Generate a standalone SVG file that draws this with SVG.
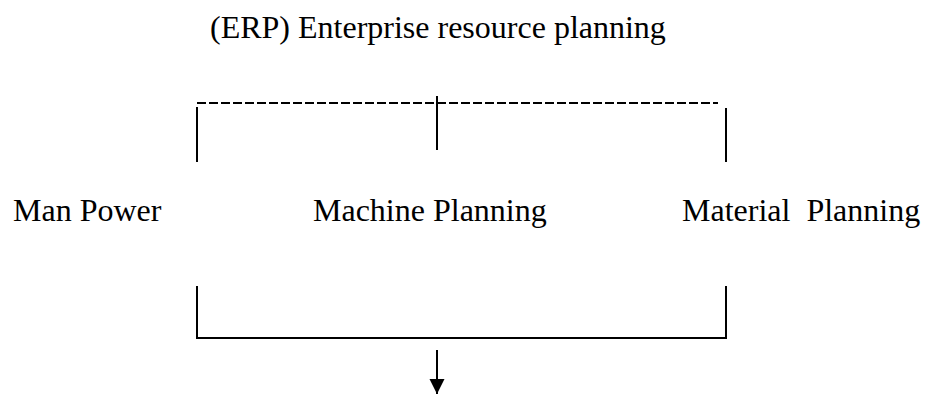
<svg xmlns="http://www.w3.org/2000/svg" width="925" height="395" viewBox="0 0 925 395">
<style>
text{font-family:"Liberation Serif","Times New Roman",serif;font-size:32px;fill:#000;white-space:pre}
.s{stroke:#000;stroke-width:2;fill:none}
.d{stroke:#000;stroke-width:2;stroke-dasharray:9 3;fill:none}
</style>
<defs>
<marker id="ah" markerWidth="15" markerHeight="16" refX="15" refY="7.5" orient="auto" markerUnits="userSpaceOnUse"><path d="M0,0 L15,7.5 L0,15 z" fill="#000"/></marker>
</defs>
<rect width="925" height="395" fill="#fff"/>
<g id="title"><text x="210" y="38">(ERP) Enterprise resource planning</text></g>
<g id="man"><text x="13" y="221">Man Power</text></g>
<g id="machine"><text x="313" y="221">Machine Planning</text></g>
<g id="material"><text x="682" y="221" xml:space="preserve">Material  Planning</text></g>
<g id="connectors">
<path class="d" d="M197,103 H718"/>
<path class="s" d="M197,107 V162 M437,96 V150 M726,108 V162"/>
<path class="s" d="M197,286 V338 H726 V286"/>
<path class="s" d="M437,350 V394" marker-end="url(#ah)"/>
</g>
</svg>
